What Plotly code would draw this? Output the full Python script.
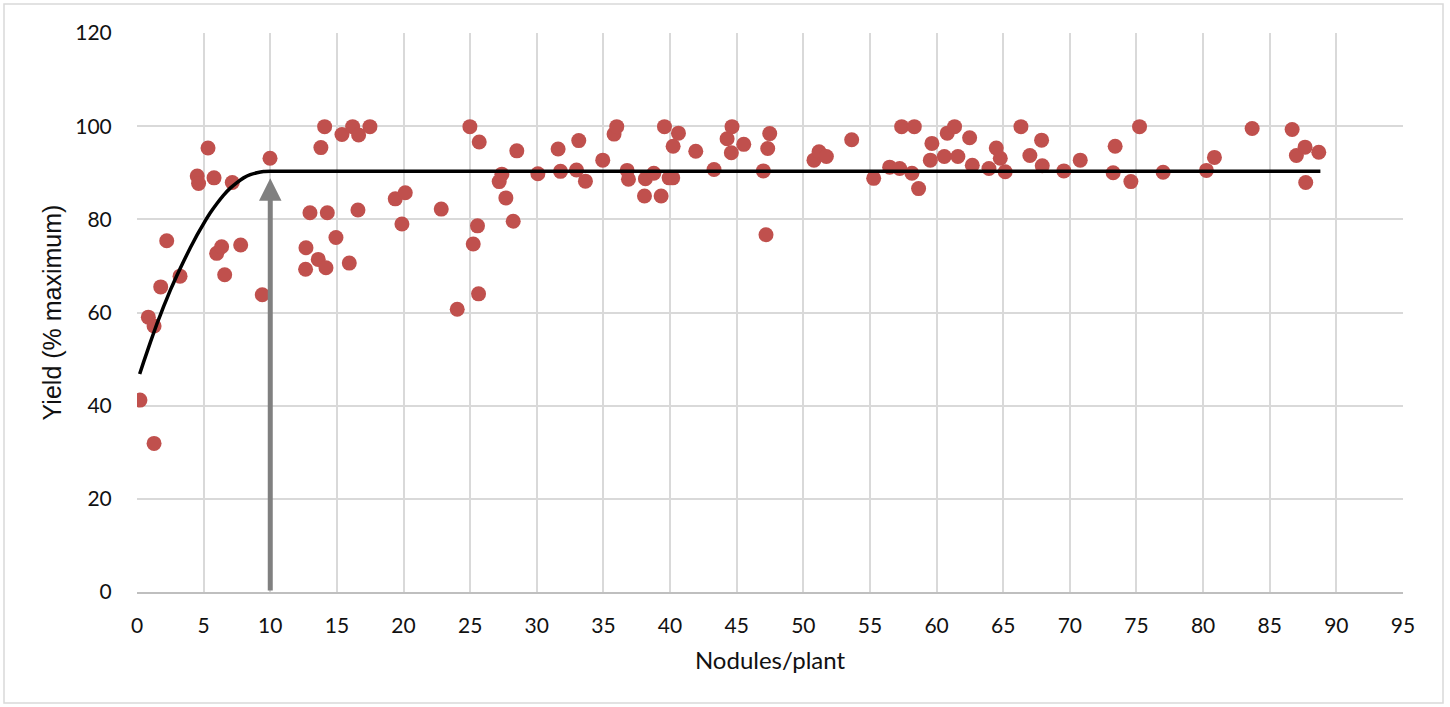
import plotly.graph_objects as go

# Observed data: nodules per plant vs. relative yield
nodules = [0.22, 1.28, 0.85, 1.28, 1.78, 2.23, 3.23, 4.52, 4.62, 5.33, 5.78, 5.98, 6.35, 6.58, 7.15, 7.78,
           9.4, 9.98, 12.68, 12.65, 12.98, 13.6, 14.18, 13.8, 14.08, 14.28, 14.93, 15.38, 15.93, 16.18,
           16.63, 16.58, 17.48, 19.38, 20.13, 19.88,
           22.83, 24.03, 24.98, 25.68, 25.55, 25.23, 25.63, 27.18, 27.38, 27.68, 28.23, 28.5, 30.08,
           31.6, 31.78, 33.15, 32.98, 33.65, 34.95, 35.8, 36.0, 36.78, 36.88, 38.08, 38.15, 38.78,
           39.33, 39.58, 39.93, 40.2, 40.23, 40.63, 41.93,
           43.3, 44.28, 44.65, 44.6, 45.53, 47.0, 47.2, 47.48, 47.33, 50.8, 51.18, 51.73, 53.63,
           55.28, 56.48, 57.23, 57.38, 58.15, 58.33, 58.65, 59.53, 59.65, 60.58, 60.8, 61.35, 61.6,
           62.48, 62.68, 63.93, 64.48, 64.78, 65.15, 66.33, 67.0, 67.88, 67.93, 69.55, 70.78,
           73.25, 73.4, 74.58, 75.23, 77.0, 80.25, 80.85, 83.68, 86.68, 87.0, 87.65, 87.7, 88.68]
yield_pct = [41.2, 31.9, 59.0, 57.1, 65.5, 75.4, 67.8, 89.3, 87.7, 95.3, 88.9, 72.7, 74.1, 68.1, 87.9, 74.5,
             63.8, 93.1, 73.9, 69.3, 81.4, 71.4, 69.6, 95.4, 99.9, 81.4, 76.1, 98.2, 70.6, 99.9,
             98.1, 82.0, 99.9, 84.4, 85.7, 79.0,
             82.2, 60.7, 99.9, 96.6, 78.6, 74.7, 64.0, 88.1, 89.7, 84.6, 79.6, 94.7, 89.8,
             95.1, 90.3, 96.9, 90.6, 88.2, 92.7, 98.3, 99.9, 90.5, 88.6, 85.0, 88.7, 89.9,
             85.0, 99.9, 88.9, 88.9, 95.7, 98.5, 94.6,
             90.7, 97.3, 99.9, 94.3, 96.1, 90.4, 76.7, 98.4, 95.2, 92.7, 94.5, 93.5, 97.1,
             88.8, 91.2, 90.9, 99.9, 89.9, 99.9, 86.6, 92.7, 96.3, 93.5, 98.5, 99.9, 93.5,
             97.5, 91.6, 90.9, 95.3, 93.1, 90.2, 99.9, 93.7, 97.0, 91.5, 90.4, 92.7,
             90.0, 95.7, 88.1, 99.9, 90.1, 90.5, 93.3, 99.5, 99.3, 93.7, 95.5, 87.9, 94.4]

# Fitted response curve
fit_x = [0.2, 0.5, 1, 1.5, 2, 2.5, 3, 3.5, 4, 4.5, 5, 5.5, 6, 6.5, 7, 7.5, 8, 8.5, 9, 9.5, 10, 88.8]
fit_y = [46.8, 49.4, 53.6, 57.6, 61.3, 64.8, 68.0, 71.0, 73.9, 76.6, 79.1, 81.4, 83.4, 85.2, 86.7,
         87.9, 88.9, 89.6, 90.0, 90.25, 90.3, 90.3]

# Critical nodule number marked by the arrow
critical_x = 10
critical_y = 88.8

x_ticks = list(range(0, 100, 5))
y_ticks = list(range(0, 140, 20))

fig = go.Figure()
fig.add_trace(go.Scatter(
    x=nodules, y=yield_pct, mode="markers",
    marker=dict(color="#C0504D", size=15, line=dict(width=0)),
    showlegend=False, hoverinfo="x+y"))
fig.add_trace(go.Scatter(
    x=fit_x, y=fit_y, mode="lines", line=dict(color="black", width=3.5, shape="spline", smoothing=0.3),
    showlegend=False, hoverinfo="skip"))

fig.add_annotation(
    x=critical_x, y=critical_y, xref="x", yref="y",
    ax=critical_x, ay=0, axref="x", ayref="y",
    showarrow=True, arrowhead=2, arrowsize=0.9, arrowwidth=5, arrowcolor="#808080", text="")

lato = "Lato, 'Open Sans', sans-serif"
tick_font = dict(family=lato, size=21, color="#111111")

fig.update_layout(
    width=1450, height=707,
    margin=dict(l=137, r=47, t=33, b=115),
    paper_bgcolor="white", plot_bgcolor="white",
    xaxis=dict(range=[0, 95], tickvals=x_ticks, showgrid=True, gridcolor="#D9D9D9", gridwidth=1.5,
               zeroline=False, showline=True, linecolor="#BFBFBF", linewidth=1.5,
               ticks="outside", ticklen=14, tickcolor="rgba(0,0,0,0)", tickfont=tick_font,
               title=dict(text="Nodules/plant", font=dict(family=lato, size=24, color="#111111"), standoff=16)),
    yaxis=dict(range=[0, 120], tickvals=y_ticks, showgrid=True, gridcolor="#D9D9D9", gridwidth=1.5,
               zeroline=False, showline=False,
               ticks="outside", ticklen=20, tickcolor="rgba(0,0,0,0)", tickfont=tick_font,
               title=dict(text="Yield (% maximum)", font=dict(family="Liberation Sans, Arial, sans-serif", size=25, color="#111111"), standoff=6)),
)

# outer chart border
fig.add_shape(type="rect", xref="paper", yref="paper",
              x0=(4 - 137) / 1266, x1=(1443 - 137) / 1266,
              y0=(592 - 703) / 559, y1=(592 - 4) / 559,
              line=dict(color="#D9D9D9", width=1.5), fillcolor="rgba(0,0,0,0)", layer="below")

fig.write_html("out.html", config={"displayModeBar": False},
               post_script="document.body.style.margin='0';")
